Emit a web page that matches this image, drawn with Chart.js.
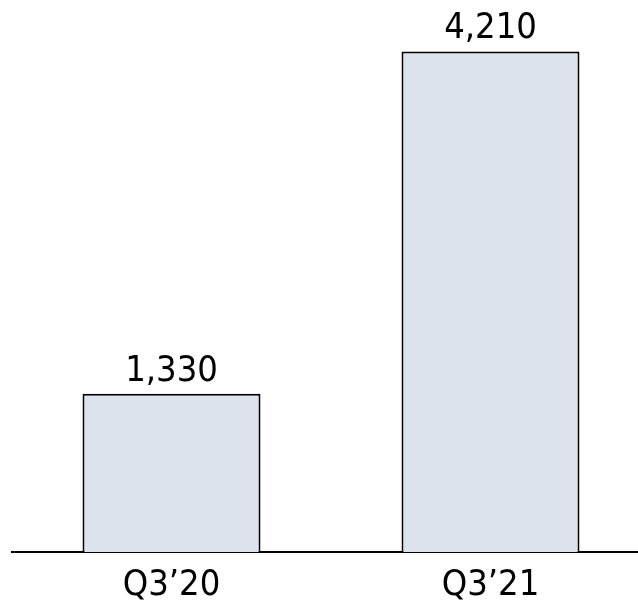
<!DOCTYPE html>
<html>
<head>
<meta charset="utf-8">
<script src="https://cdn.jsdelivr.net/npm/chart.js@4/dist/chart.umd.min.js"></script>
<style>
    html, body { margin: 0; padding: 0; background: #fff; overflow: hidden; }
    #wrap { width: 638px; height: 602px; overflow: hidden; }
    #wrap div { width: 650px; height: 602px; position: relative; }
</style>
</head>
<body>
<div id="wrap"><div><canvas id="chart"></canvas></div></div>
<script>
const categories = ['Q3\u201920', 'Q3\u201921'];
const values = [1330, 4210];
const valueLabels = ['1,330', '4,210'];

const FONT = "'Liberation Sans Narrow', 'DejaVu Sans Condensed', Lato, sans-serif";

// etiquetas encima de cada barra
const barLabels = {
    id: 'barLabels',
    afterDatasetsDraw(chart) {
        const ctx = chart.ctx;
        const meta = chart.getDatasetMeta(0);
        ctx.save();
        ctx.font = `36px ${FONT}`;
        ctx.fillStyle = '#000';
        ctx.textAlign = 'center';
        ctx.textBaseline = 'alphabetic';
        meta.data.forEach((bar, i) => {
            ctx.fillText(valueLabels[i], bar.x, bar.y - 13);
        });
        ctx.restore();
    }
};

new Chart(document.getElementById('chart'), {
    type: 'bar',
    data: {
        labels: categories,
        datasets: [{
            data: values,
            backgroundColor: '#dce3ed',
            borderColor: '#000',
            borderWidth: 2,
            borderSkipped: 'bottom',
            barPercentage: 0.558,
            categoryPercentage: 1
        }]
    },
    options: {
        responsive: true,
        maintainAspectRatio: false,
        animation: false,
        layout: { padding: { top: 5, left: 12, right: 0, bottom: 0 } },
        scales: {
            x: {
                grid: { display: false, drawTicks: false },
                border: { display: true, color: '#000', width: 2 },
                ticks: { color: '#000', font: { family: FONT, size: 36 }, padding: 12 },
                afterFit(scale) { scale.height = 50; }
            },
            y: { display: false, min: 0, max: 4600 }
        },
        plugins: {
            legend: { display: false },
            tooltip: { enabled: false }
        }
    },
    plugins: [barLabels]
});
</script>
</body>
</html>
